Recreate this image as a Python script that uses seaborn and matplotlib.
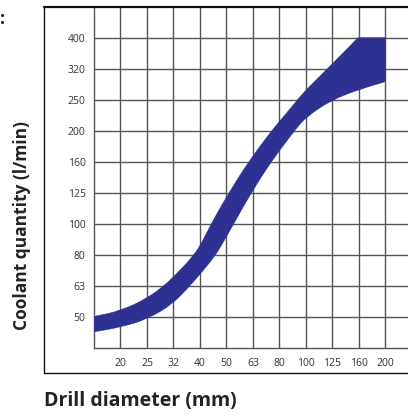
import matplotlib.pyplot as plt
import seaborn as sns
from matplotlib.lines import Line2D
from matplotlib.path import Path
from matplotlib.patches import PathPatch

# band edges: drill diameter (mm) -> coolant quantity (l/min)
upper_diameter = [15.85, 19.95, 25.12, 28.97, 31.62, 37.84, 40.74, 43.85, 51.17, 60.67,
                  74.13, 79.43, 92.9, 100, 120.5, 157.0, 199.5]
upper_flow = [50.4, 52.6, 57.7, 63.1, 67.5, 79.4, 88.1, 100, 125.9, 158.5,
              199.5, 213.8, 251.2, 270.4, 316.2, 398.1, 398.1]
lower_diameter = [15.85, 19.95, 25.12, 31.62, 36.31, 39.81, 45.6, 48.98, 53.33, 62.09,
                  73.79, 85.11, 90.36, 100, 124.7, 158.5, 199.5]
lower_flow = [45.0, 46.6, 49.4, 55.6, 63.1, 68.9, 79.4, 88.1, 100, 125.9,
              158.5, 186.6, 199.5, 221.3, 251.2, 271.6, 287.7]

x_tick_labels = ["20", "25", "32", "40", "50", "63", "80", "100", "125", "160", "200"]
y_tick_labels = ["50", "63", "80", "100", "125", "160", "200", "250", "320", "400"]

BAND = "#2e3192"
GRID = "#555555"


def smooth_edge(pts):
    """Quadratic bezier through segment midpoints, read points as control points."""
    verts = [pts[0], ((pts[0][0] + pts[1][0]) / 2, (pts[0][1] + pts[1][1]) / 2)]
    codes = [Path.LINETO, Path.LINETO]
    for i in range(1, len(pts) - 1):
        mid = ((pts[i][0] + pts[i + 1][0]) / 2, (pts[i][1] + pts[i + 1][1]) / 2)
        verts += [pts[i], mid]
        codes += [Path.CURVE3, Path.CURVE3]
    verts.append(pts[-1])
    codes.append(Path.LINETO)
    return verts, codes


sns.set_theme(style="white")
plt.rcParams['font.family'] = ['Open Sans', 'DejaVu Sans']

W, H = 408, 417
fig = plt.figure(figsize=(W / 100, H / 100), dpi=100)
ax = fig.add_axes([94 / W, (H - 348.3) / H, (W - 94) / W, (348.3 - 6.7) / H])

# log-log axes with R10 grid (16 ... 200 mm, 40 ... 500 l/min)
ax.set_xscale("log")
ax.set_yscale("log")
ax.set_xlim(10 ** 1.2, 10 ** (1.2 + 11.85 / 10))
ax.set_ylim(10 ** 1.6, 10 ** 2.7)

# band: curved upper edge up to the flat top, then the right edge, then the lower edge back
upper_pts = list(zip(upper_diameter, upper_flow))
lower_pts = list(zip(lower_diameter, lower_flow))[::-1]
v1, c1 = smooth_edge(upper_pts[:-1])
v2, c2 = smooth_edge(lower_pts)
verts = v1 + [upper_pts[-1]] + v2 + [upper_pts[0]]
codes = c1 + [Path.LINETO] + c2 + [Path.CLOSEPOLY]
codes[0] = Path.MOVETO
ax.add_patch(PathPatch(Path(verts, codes), facecolor=BAND, edgecolor=BAND, lw=0.4, zorder=3))

ax.minorticks_off()
ax.set_xticks([10 ** (1.3 + k / 10) for k in range(len(x_tick_labels))])
ax.set_xticklabels(x_tick_labels)
ax.set_yticks([10 ** (1.7 + k / 10) for k in range(len(y_tick_labels))])
ax.set_yticklabels(y_tick_labels)
ax.tick_params(length=0, labelsize=7.5, labelcolor="#333333")
ax.tick_params(axis="x", pad=7)
ax.tick_params(axis="y", pad=6)
ax.grid(True, color=GRID, lw=1.0, zorder=1)
ax.set_axisbelow(True)
for side in ["left", "bottom"]:
    ax.spines[side].set_color(GRID)
    ax.spines[side].set_linewidth(1.0)
ax.spines["top"].set_visible(False)
ax.spines["right"].set_visible(False)

# outer frame
top_y = 1 - 6.7 / H
bot_y = 1 - 373.3 / H
left_x = 44 / W
fig.add_artist(Line2D([left_x, 1], [top_y, top_y], transform=fig.transFigure, color="#111111", lw=1.6))
fig.add_artist(Line2D([left_x, left_x], [bot_y, top_y], transform=fig.transFigure, color="#111111", lw=1.0))
fig.add_artist(Line2D([left_x, 1], [bot_y, bot_y], transform=fig.transFigure, color="#111111", lw=1.0))

fig.text(140 / W, 1 - 401 / H, "Drill diameter (mm)", ha="center", va="center",
         fontsize=14, fontweight="bold", color="#222222")
fig.text(22 / W, 1 - 225 / H, "Coolant quantity (l/min)", ha="center", va="center",
         rotation=90, fontsize=12.5, fontweight="bold", color="#222222")
fig.text(3 / W, 1 - 19 / H, ":", ha="center", va="center", fontsize=13, fontweight="bold", color="#222222")

fig.savefig("out.png", dpi=100)
